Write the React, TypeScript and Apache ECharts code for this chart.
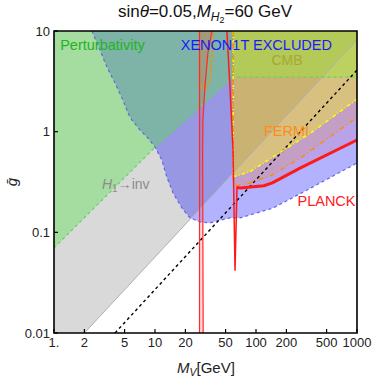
import React, { useEffect, useRef } from "react";
import * as echarts from "echarts";

// ---- axes ----
const xTicks = [1, 2, 5, 10, 20, 50, 100, 200, 500, 1000];
const xTickLabels = ["1.", "2", "5", "10", "20", "50", "100", "200", "500", "1000"];
const yTicks = [0.01, 0.1, 1, 10];
const yTickLabels = ["0.01", "0.1", "1", "10"];

// ---- boundaries, points are [M_V (GeV), gbar] ----
const grayLine = [[2, 0.01], [1000, 8.2]];
const greenLine = [[1, 0.07], [10, 0.7], [59.3, 3.48], [1000, 3.48]];
const xenonLine = [
  [2.38, 10], [2.85, 6.46], [3.35, 4.38], [4.02, 3.04], [4.82, 2.06], [5.4, 1.53],
  [5.92, 1.3], [7.1, 1.04], [8.53, 0.863], [10, 0.703], [11.7, 0.522], [13.1, 0.354],
  [15.1, 0.246], [18.5, 0.174], [22.2, 0.139], [27.9, 0.127], [35, 0.124], [44, 0.132],
  [55.3, 0.139], [69.5, 0.139], [147, 0.174], [320, 0.263], [1000, 0.488],
];
const cmbLine = [[59.5, 10], [59.5, 0.37], [62, 0.36], [87, 0.4], [358, 0.99], [1000, 2.1]];
const fermiLine = [[59.5, 10], [59.5, 0.32], [61, 0.29], [80, 0.3], [144, 0.37], [285, 0.56], [913, 1.3], [1000, 1.4]];
const fermiNarrow = [[27.8, 10], [27.5, 3.2], [29, 2.7], [31.5, 2.6], [35, 3.2], [38.5, 10]];
const relicA = [[27.6, 0.01], [27.6, 10]];
const relicB = [[30, 0.01], [29.6, 0.6], [29.8, 1.3], [31.2, 2.77], [33.4, 6.03], [36.7, 10]];
const planckThin = [[51.5, 10], [55, 3], [58, 1], [59.2, 0.66], [62, 0.042], [64.9, 0.28]];
const planckThick = [[64, 0.28], [70, 0.275], [120, 0.29], [145, 0.31], [273, 0.435], [1000, 0.826]];
const dashedLine = [[4.02, 0.01], [1000, 4.09]];

const FONT = '"Liberation Sans", Arial, Helvetica, sans-serif';
const fontStr = (size: number, italic?: boolean) => `${italic ? "italic " : ""}${size}px ${FONT}`;

let measureCtx: CanvasRenderingContext2D | null = null;
function textWidth(t: string, font: string) {
  if (!measureCtx) measureCtx = document.createElement("canvas").getContext("2d");
  measureCtx!.font = font;
  return measureCtx!.measureText(t).width;
}

type Seg = { t: string; size: number; italic?: boolean; dy?: number };
function segRow(segs: Seg[], x0: number, baseline: number, fill: string, anchor: "left" | "center") {
  const widths = segs.map((s) => textWidth(s.t, fontStr(s.size, s.italic)));
  const total = widths.reduce((a, b) => a + b, 0);
  let x = anchor === "center" ? x0 - total / 2 : x0;
  return segs.map((s, i) => {
    const el = {
      type: "text",
      x,
      y: baseline + (s.dy || 0) - 0.35 * s.size,
      z: 100,
      style: { text: s.t, font: fontStr(s.size, s.italic), fill, align: "left", verticalAlign: "middle" },
    };
    x += widths[i];
    return el;
  });
}

const GRAY = "#d9d9d9";
const BLUE = "rgba(0,0,255,0.3)";
const GREEN = "rgba(87,225,75,0.4)";
const PLANCK = "rgba(255,0,0,0.09)";
const FERMI = "rgba(255,140,0,0.15)";
const CMB = "rgba(255,255,0,0.35)";
const RELIC = "rgba(255,60,60,0.2)";

function renderPlot(_params: any, api: any) {
  const c = (p: number[]) => api.coord(p);
  const poly = (pts: number[][], fill: string) => ({
    type: "polygon",
    shape: { points: pts.map(c) },
    style: { fill, stroke: "none" },
  });
  const pl = (pts: number[][], stroke: string, lineWidth: number, lineDash?: number[]) => ({
    type: "polyline",
    shape: { points: pts.map(c) },
    style: { fill: "none", stroke, lineWidth, lineDash, lineJoin: "round" },
  });
  const tl = c([1, 10]);
  const br = c([1000, 0.01]);
  const children: any[] = [
    poly([[1, 0.01], ...grayLine, [1000, 10], [1, 10]], GRAY),
    poly([...xenonLine, [1000, 10]], BLUE),
    poly([...planckThin, ...planckThick.slice(1), [1000, 10]], PLANCK),
    poly([...fermiLine, [1000, 10]], FERMI),
    poly(fermiNarrow, FERMI),
    poly([...greenLine, [1000, 10], [1, 10]], GREEN),
    poly([...cmbLine, [1000, 10]], CMB),
    poly([...relicA, ...relicB.slice().reverse()], RELIC),
    pl(grayLine, "#b0b0b0", 1),
    pl(greenLine, "#64d264", 1.2, [3, 3]),
    pl(xenonLine, "#6464e6", 1.2, [3, 3]),
    pl(dashedLine, "#000000", 1.4, [3, 3]),
    pl(cmbLine, "#ffff00", 1.5, [4, 2, 1, 2]),
    pl(fermiLine, "#ff8c00", 1.4, [5, 3, 1, 3]),
    pl(fermiNarrow, "#ff8c00", 1.5, [3, 2]),
    pl(relicA, "#ff2a2a", 1.2),
    pl(relicB, "#ff2a2a", 1.2),
    pl(planckThin, "#ff1a1a", 1.5),
    pl(planckThick, "#ff1a1a", 3),
  ];
  // ticks and tick labels
  xTicks.forEach((v, i) => {
    const p = c([v, 0.01]);
    children.push({ type: "line", shape: { x1: p[0], y1: br[1], x2: p[0], y2: br[1] - 4 }, style: { stroke: "#000", lineWidth: 1.2 } });
    children.push({
      type: "text", x: p[0], y: 342,
      style: { text: xTickLabels[i], font: fontStr(13), fill: "#222", align: "center", verticalAlign: "middle" },
    });
  });
  yTicks.forEach((v, i) => {
    const p = c([1, v]);
    children.push({ type: "line", shape: { x1: tl[0], y1: p[1], x2: tl[0] + 4, y2: p[1] }, style: { stroke: "#000", lineWidth: 1.2 } });
    children.push({
      type: "text", x: tl[0] - 4, y: p[1],
      style: { text: yTickLabels[i], font: fontStr(13), fill: "#222", align: "right", verticalAlign: "middle" },
    });
  });
  children.push({
    type: "rect",
    shape: { x: tl[0], y: tl[1], width: br[0] - tl[0], height: br[1] - tl[1] },
    style: { fill: "none", stroke: "#000", lineWidth: 1.6 },
  });
  return { type: "group", children };
}

export default function App() {
  const ref = useRef<HTMLDivElement>(null);
  useEffect(() => {
    document.body.style.margin = "0";
    const chart = echarts.init(ref.current!, null, { renderer: "svg" });
    const texts: any[] = [
      ...segRow(
        [
          { t: "sin", size: 17 },
          { t: "θ", size: 17, italic: true },
          { t: "=0.05,", size: 17 },
          { t: "M", size: 17, italic: true },
          { t: "H", size: 12, italic: true, dy: 4 },
          { t: "2", size: 9, dy: 6 },
          { t: "=60 GeV", size: 17 },
        ],
        205, 17, "#111", "center"
      ),
      ...segRow(
        [
          { t: "M", size: 15, italic: true },
          { t: "V", size: 10.5, italic: true, dy: 3 },
          { t: "[GeV]", size: 15 },
        ],
        177, 373, "#222", "left"
      ),
      ...segRow(
        [
          { t: "H", size: 14, italic: true },
          { t: "1", size: 10, dy: 3 },
          { t: "→inv", size: 14 },
        ],
        102, 189, "#8c8c8c", "left"
      ),
      ...segRow([{ t: "Perturbativity", size: 14.5 }], 102.5, 50.5, "#22b422", "center"),
      ...segRow([{ t: "XENON1T EXCLUDED", size: 14.5 }], 256.5, 50.5, "#1a1aff", "center"),
      ...segRow([{ t: "CMB", size: 14 }], 287, 65, "#a8a832", "center"),
      ...segRow([{ t: "FERMI", size: 14.5 }], 286.5, 136.5, "#ff8c1a", "center"),
      ...segRow([{ t: "PLANCK", size: 14.5 }], 326.5, 206.5, "#ff2020", "center"),
      {
        type: "text", x: 11, y: 182, rotation: Math.PI / 2, z: 100,
        style: { text: "ḡ", font: fontStr(15, true), fill: "#222", align: "center", verticalAlign: "middle" },
      },
    ];
    const option: any = {
      animation: false,
      grid: { left: 54, top: 31, width: 303, height: 302, show: false },
      xAxis: { type: "log", logBase: 10, min: 1, max: 1000, show: false },
      yAxis: { type: "log", logBase: 10, min: 0.01, max: 10, show: false },
      series: [{ type: "custom", renderItem: renderPlot, data: [[10, 1]], silent: true, clip: false }],
      graphic: { elements: texts },
    };
    chart.setOption(option);
    return () => chart.dispose();
  }, []);
  return <div ref={ref} style={{ width: 374, height: 377 }} />;
}
